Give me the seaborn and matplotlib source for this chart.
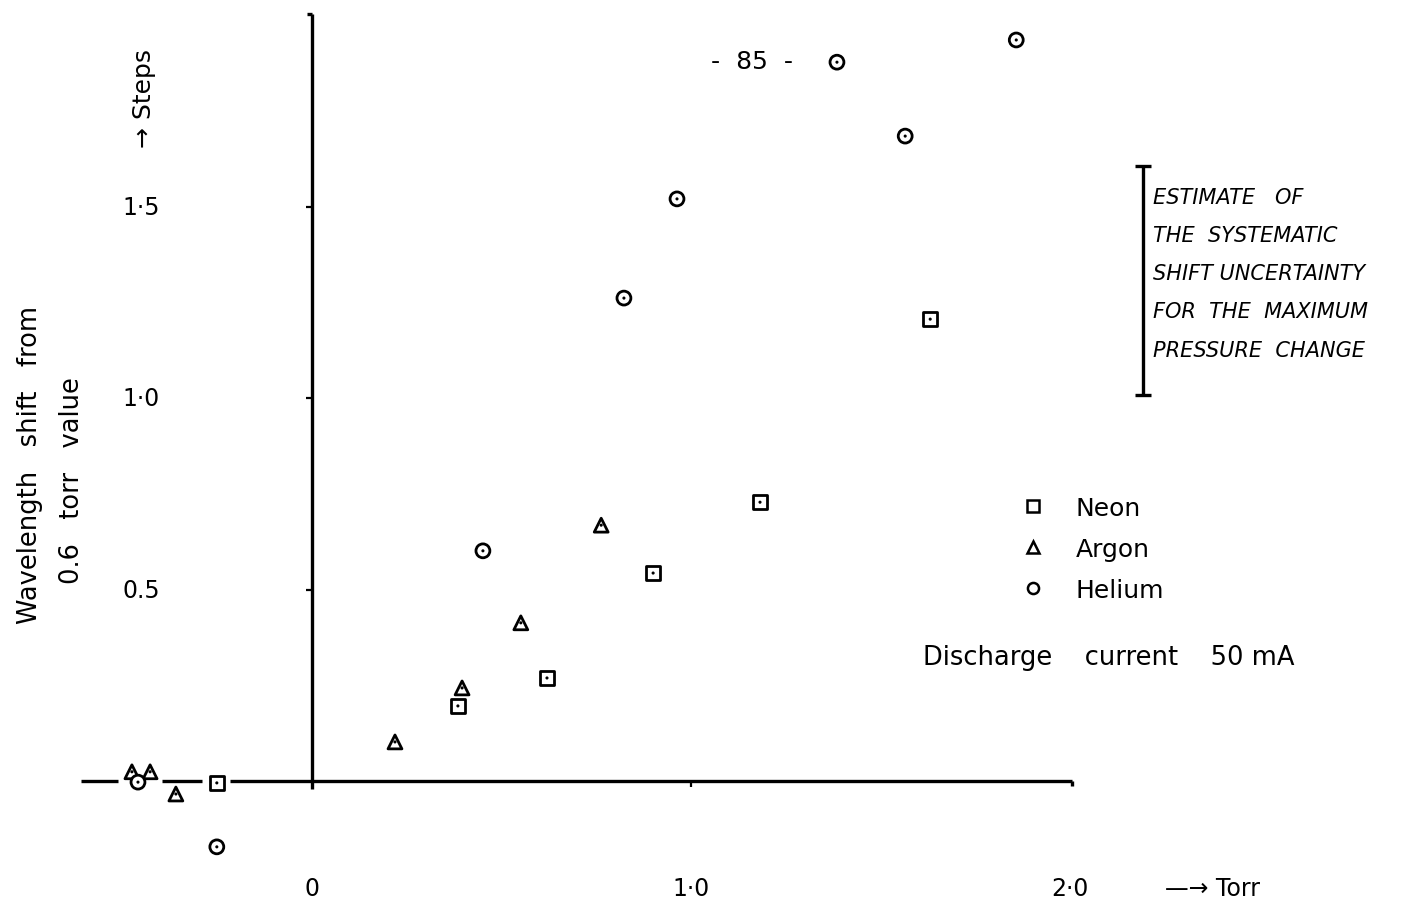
import pandas as pd
import seaborn as sns
import matplotlib.pyplot as plt
from matplotlib.lines import Line2D

# Données (pression en torr, décalage en pas)
neon_x = [-0.251, 0.385, 0.620, 0.900, 1.182, 1.631]
neon_y = [-0.005, 0.196, 0.269, 0.543, 0.728, 1.206]
argon_x = [-0.475, -0.427, -0.359, 0.219, 0.396, 0.551, 0.763]
argon_y = [0.024, 0.024, -0.034, 0.102, 0.243, 0.413, 0.668]
helium_x = [-0.459, -0.251, 0.451, 0.823, 0.963, 1.385, 1.565, 1.858]
helium_y = [-0.003, -0.172, 0.601, 1.261, 1.520, 1.877, 1.684, 1.935]

gases = ["Neon", "Argon", "Helium"]
gas_markers = {"Neon": "s", "Argon": "^", "Helium": "o"}

y_ticks = [0.5, 1.0, 1.5]
y_tick_labels = ["0.5", "1·0", "1·5"]
x_ticks = [0.0, 1.0, 2.0]
x_tick_labels = ["0", "1·0", "2·0"]

# barre d'incertitude systématique
unc_x = [2.193]
unc_low = [1.008]
unc_high = [1.606]
unc_lines = ["ESTIMATE   OF", "THE  SYSTEMATIC", "SHIFT UNCERTAINTY",
             "FOR  THE  MAXIMUM", "PRESSURE  CHANGE"]

df = pd.concat([
    pd.DataFrame({"p": neon_x, "shift": neon_y, "gas": "Neon"}),
    pd.DataFrame({"p": argon_x, "shift": argon_y, "gas": "Argon"}),
    pd.DataFrame({"p": helium_x, "shift": helium_y, "gas": "Helium"}),
], ignore_index=True)

sns.set_style("white")
plt.rcParams["font.family"] = ["DejaVu Sans"]
plt.rcParams["text.color"] = "black"

fig = plt.figure(figsize=(14.01, 9.03), dpi=100)
ax = fig.add_axes([0, 0, 1, 1])
ax.set_xlim(-0.823, 2.873)
ax.set_ylim(-0.316, 2.042)
ax.axis("off")

# axes dessinés à la main, comme sur l'original
lw = 2.4
for x0, x1 in [(-0.609, -0.512), (-0.396, -0.290), (-0.216, 2.005)]:
    ax.plot([x0, x1], [0, 0], color="black", lw=lw, solid_capstyle="butt", zorder=1)
ax.plot([0, 0], [-0.022, 2.003], color="black", lw=lw, solid_capstyle="butt", zorder=1)
ax.plot([-0.012, 0.0], [2.003, 2.003], color="black", lw=lw, solid_capstyle="butt")
ax.plot([2.005, 2.005], [0, -0.012], color="black", lw=lw, solid_capstyle="butt")
for yt in y_ticks:
    ax.plot([-0.016, 0], [yt, yt], color="black", lw=1.6, solid_capstyle="butt")
ax.plot([1.0, 1.0], [0, -0.016], color="black", lw=1.6, solid_capstyle="butt")

fs = 17
for yt, lab in zip(y_ticks, y_tick_labels):
    ax.text(-0.45, yt, lab, ha="center", va="center", fontsize=fs)
for xt, lab in zip(x_ticks, x_tick_labels):
    ax.text(xt, -0.28, lab, ha="center", va="center", fontsize=fs)
ax.text(2.375, -0.28, "—→ Torr", ha="center", va="center", fontsize=fs)

fig.text(30 / 1401, 1 - 465 / 903, "Wavelength   shift   from", rotation=90,
         ha="center", va="center", fontsize=18.5)
fig.text(72 / 1401, 1 - 481 / 903, "0.6   torr   value", rotation=90,
         ha="center", va="center", fontsize=18.5)
fig.text(144 / 1401, 1 - 98 / 903, "→ Steps", rotation=90,
         ha="center", va="center", fontsize=18)
fig.text(752 / 1401, 1 - 62 / 903, "-  85  -", ha="center", va="center", fontsize=18)

# points de mesure : marqueurs creux avec un point au centre
sns.scatterplot(data=df, x="p", y="shift", style="gas", markers=gas_markers,
                s=100, facecolor="white", edgecolor="black", linewidth=2.0,
                legend=False, ax=ax, zorder=3)
sns.scatterplot(data=df, x="p", y="shift", color="black", s=5, marker="o",
                edgecolor="none", legend=False, ax=ax, zorder=4)

ax.errorbar(unc_x, [(lo + hi) / 2 for lo, hi in zip(unc_low, unc_high)],
            yerr=[[(hi - lo) / 2 for lo, hi in zip(unc_low, unc_high)]] * 2,
            fmt="none", ecolor="black", elinewidth=2.4, capsize=6, capthick=2.4)
for i, line in enumerate(unc_lines):
    ax.text(unc_x[0] + 0.025, unc_high[0] - 0.08 - i * 0.1, line, ha="left", va="center",
            fontsize=15, style="italic")

handles = [Line2D([], [], ls="none", marker=gas_markers[g], markersize=8,
                  markerfacecolor="white", markeredgecolor="black", markeredgewidth=1.8)
           for g in gases]
ax.legend(handles, ["Neon", "Argon", "Helium"], loc="upper left",
          bbox_to_anchor=(1008 / 1401, 1 - 487 / 903), frameon=False, fontsize=18,
          handletextpad=1.1, labelspacing=0.68, borderaxespad=0, handlelength=1.2)

fig.text(1109 / 1401, 1 - 658 / 903, "Discharge    current    50 mA", ha="center",
         va="center", fontsize=18.5)

plt.savefig("out.png", dpi=100)
plt.close()
